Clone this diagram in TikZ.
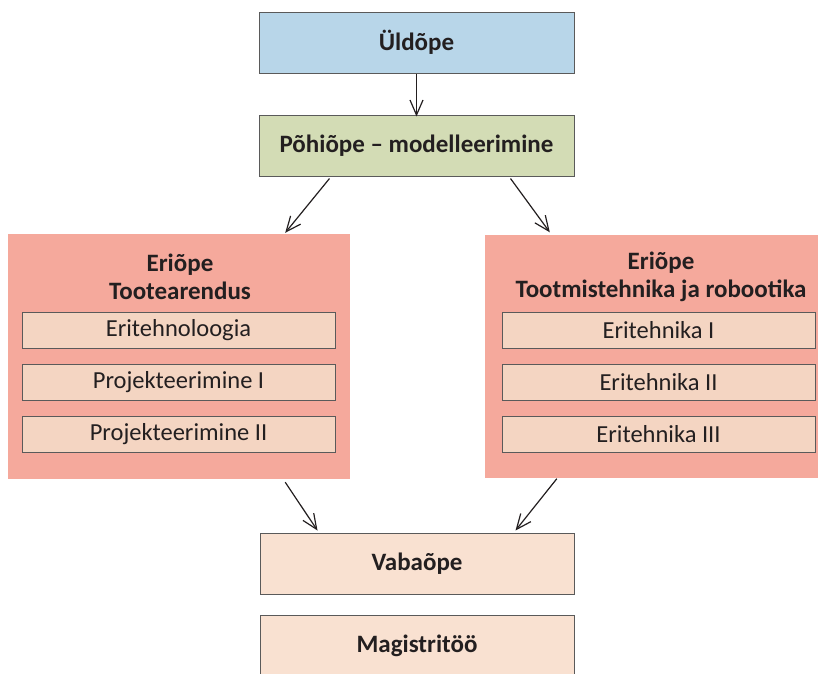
\documentclass[tikz,border=0pt]{standalone}
\usepackage{fontspec}
\setmainfont{Carlito}
\usetikzlibrary{arrows.meta,calc}

\definecolor{txt}{HTML}{231F20}
\definecolor{edge}{HTML}{5A5A5A}
\definecolor{blueFill}{HTML}{B8D6E9}
\definecolor{greenFill}{HTML}{D3DCB5}
\definecolor{pinkFill}{HTML}{F5A99C}
\definecolor{peachFill}{HTML}{F4D5C2}
\definecolor{paleFill}{HTML}{F9E1D1}

\tikzset{
  stage/.style={draw=edge, line width=1pt, minimum width=315pt, minimum height=61pt,
    inner sep=0pt, font=\fontsize{25}{30}\selectfont\bfseries, text=txt},
  group/.style={fill=pinkFill, inner sep=0pt},
  course/.style={draw=edge, line width=1pt, fill=peachFill, minimum width=313pt,
    minimum height=36pt, inner sep=0pt, font=\fontsize{24.5}{29}\selectfont, text=txt},
  grouptitle/.style={align=center, font=\fontsize{25}{27.5}\selectfont\bfseries, text=txt},
  flow/.style={draw=txt, line width=1.2pt, -{Straight Barb[length=15pt,width=13pt,line width=1.2pt]}}
}

\begin{document}
\begin{tikzpicture}[x=1pt,y=-1pt]
\useasboundingbox (0,0) rectangle (818,673);
\clip (0,0) rectangle (818,673);

% main stages
\node[stage, fill=blueFill]  (uld)  at (416.5,42.5)  {Üldõpe};
\node[stage, fill=greenFill] (pohi) at (416.5,145.5) {Põhiõpe – modelleerimine};

% specialisation groups
\node[group, minimum width=342pt, minimum height=245pt] (left)  at (179,356.5) {};
\node[group, minimum width=333pt, minimum height=243pt] (right) at (651.5,356) {};

\node[grouptitle] (ltitle) at (180,277) {Eriõpe\\Tootearendus};
\node[grouptitle] (rtitle) at (661,277) {Eriõpe\\Tootmistehnika ja robootika};

\node[course] (l1) at (178.5,330) {Eritehnoloogia};
\node[course] (l2) at (178.5,382) {Projekteerimine I};
\node[course] (l3) at (178.5,434) {Projekteerimine II};

\node[course] (r1) at (658.5,330) {Eritehnika I};
\node[course] (r2) at (658.5,382) {Eritehnika II};
\node[course] (r3) at (658.5,434) {Eritehnika III};

% final stages
\node[stage, fill=paleFill, minimum width=314pt] (vaba) at (417,563.5) {Vabaõpe};
\node[stage, fill=paleFill, minimum width=314pt, minimum height=62pt] (mag) at (417,646) {Magistritöö};

% connectors
\draw[flow] (uld.south) -- ([yshift=-2pt]pohi.north);
\draw[flow] ([xshift=71pt,yshift=-2pt]pohi.south west) -- ([xshift=-65pt,yshift=1pt]left.north east);
\draw[flow] ([xshift=-64pt,yshift=-2pt]pohi.south east) -- ([xshift=65pt,yshift=2pt]right.north west);
\draw[flow] ([xshift=-65pt,yshift=-3pt]left.south east) -- ([xshift=58pt,yshift=2pt]vaba.north west);
\draw[flow] ([xshift=72pt,yshift=-1pt]right.south west) -- ([xshift=-59pt,yshift=2pt]vaba.north east);
\end{tikzpicture}
\end{document}
